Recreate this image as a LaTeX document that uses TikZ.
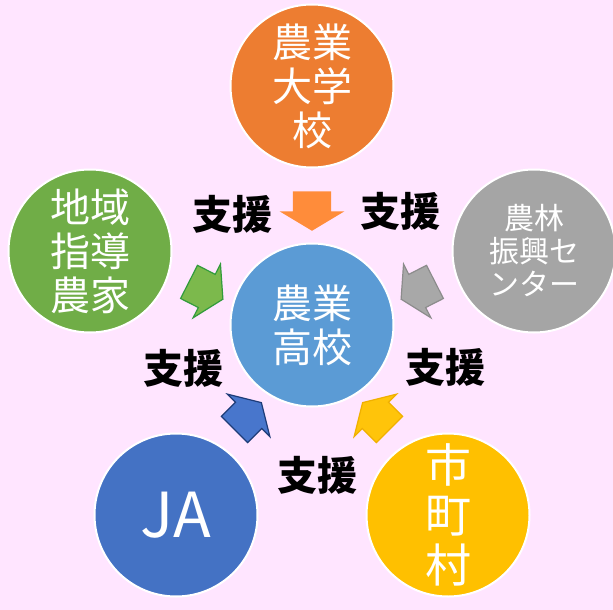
\documentclass[tikz,border=0pt]{standalone}
\usepackage{fontspec}
\newfontfamily\jpfont{Noto Sans CJK JP}
\usetikzlibrary{shapes.arrows, calc}
\definecolor{bgpink}{RGB}{255,229,255}
\definecolor{hsblue}{RGB}{91,155,213}
\definecolor{univorange}{RGB}{237,125,49}
\definecolor{farmgreen}{RGB}{112,173,71}
\definecolor{centergray}{RGB}{165,165,165}
\definecolor{jablue}{RGB}{68,114,196}
\definecolor{cityyellow}{RGB}{255,192,0}
% fill / rim of the support arrows
\definecolor{arrorange}{RGB}{255,140,58}
\definecolor{arrgreen}{RGB}{124,185,76}
\definecolor{rimgreen}{RGB}{50,155,60}
\definecolor{arrgray}{RGB}{168,168,168}
\definecolor{rimgray}{RGB}{140,140,140}
\definecolor{arrblue}{RGB}{72,118,204}
\definecolor{rimblue}{RGB}{30,60,120}
\definecolor{arryellow}{RGB}{255,196,10}
\definecolor{rimyellow}{RGB}{240,176,0}

\begin{document}
\begin{tikzpicture}[x=1pt,y=-1pt,
  org/.style={circle, draw=white, line width=2pt, minimum size=163pt, inner sep=0pt,
    text=white, align=center, font=\jpfont\fontsize{40}{44}\selectfont},
  shien/.style={font=\jpfont\bfseries\fontsize{40}{44}\selectfont},
  support/.style={single arrow, minimum height=38pt, inner xsep=0pt, inner ysep=18pt,
    single arrow head extend=11.5pt, single arrow tip angle=118, line width=1.2pt}]
\useasboundingbox (0,0) rectangle (613,610);
\clip (0,0) rectangle (613,610);
\fill[bgpink] (0,0) rectangle (613,610);

% organisations
\node[org, fill=hsblue] (hs) at (312,325) {農業\\高校};
\node[org, fill=univorange] (univ) at (312,86) {農業\\大学\\校};
\node[org, fill=farmgreen] (farmer) at (90,251) {地域\\指導\\農家};
\node[org, fill=centergray, font=\jpfont\fontsize{30}{33}\selectfont] (center) at (534,251) {農林\\振興セ\\ンター};
\node[org, fill=jablue, font=\jpfont\fontsize{62}{64}\selectfont] (ja) at (176,515) {JA};
\node[org, fill=cityyellow, font=\jpfont\fontsize{46}{50}\selectfont] (city) at (448,515) {市\\町\\村};

% support arrows
\foreach \org/\ang/\fc/\dc in {univ/-90/arrorange/arrorange, farmer/-27/arrgreen/rimgreen,
    center/207/arrgray/rimgray, ja/45/arrblue/rimblue, city/135/arryellow/rimyellow}
  \node[support, fill=\fc, draw=\dc, rotate=\ang] (arr-\org) at ($(\org)!0.5!(hs)$) {};

\node[shien] (sup-univ) at (232,214) {支援};
\node[shien] (sup-center) at (400,211) {支援};
\node[shien] (sup-farmer) at (183,368) {支援};
\node[shien] (sup-city) at (445,367) {支援};
\node[shien] (sup-ja) at (317,475) {支援};
\end{tikzpicture}
\end{document}
